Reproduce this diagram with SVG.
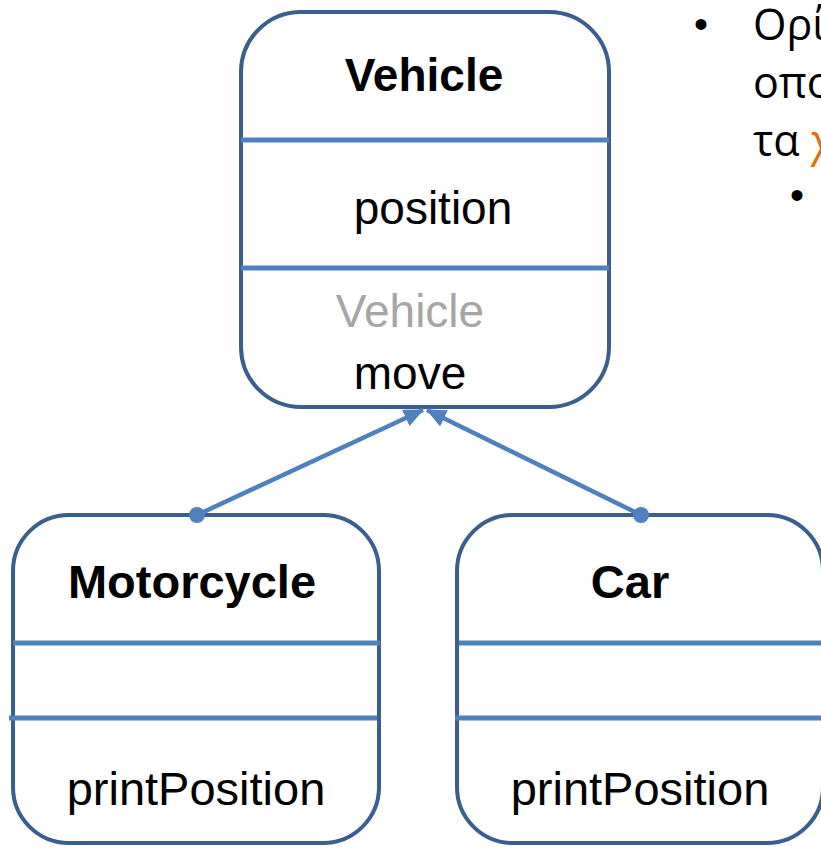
<svg xmlns="http://www.w3.org/2000/svg" width="821" height="847" viewBox="0 0 821 847">
<style>
.box{fill:#fff;stroke:#3A5F8E;stroke-width:4}
.div{stroke:#4F81BD;stroke-width:5}
.t{font-family:"Liberation Sans",Arial,sans-serif;font-size:46px;fill:#000;text-anchor:middle}
.lg{font-size:47px}
.b{font-weight:bold}
.g{fill:#A6A6A6}
.conn{stroke:#4F81BD;stroke-width:4.5;fill:none;marker-start:url(#dot);marker-end:url(#arr)}
.side{font-family:"Open Sans","Noto Sans",sans-serif;font-size:43px;fill:#000}
.bul{font-family:"Liberation Sans",sans-serif;font-size:40px;fill:#000;text-anchor:middle}
</style>
<defs>
<marker id="arr" markerUnits="userSpaceOnUse" viewBox="0 0 20 18" refX="19" refY="9" markerWidth="20" markerHeight="18" orient="auto">
<path d="M0,0 L20,9 L0,18 Z" fill="#4F81BD"/>
</marker>
<marker id="dot" markerUnits="userSpaceOnUse" viewBox="0 0 18 18" refX="9" refY="9" markerWidth="18" markerHeight="18">
<circle cx="9" cy="9" r="8" fill="#4F81BD"/>
</marker>
</defs>
<rect width="821" height="847" fill="#fff"/>
<g id="side-text">
<text class="bul" x="701" y="38">•</text>
<text class="side" x="753" y="40">Ορί</text>
<text class="side" x="753" y="98">οπο</text>
<text class="side" x="753" y="156">τα <tspan fill="#E46C0A">χ</tspan></text>
<text class="bul" x="797" y="209">•</text>
</g>
<g id="vehicle">
<rect class="box" x="241" y="12" width="368" height="395" rx="60" ry="60"/>
<line class="div" x1="241" y1="140" x2="609" y2="140"/>
<line class="div" x1="241" y1="268" x2="609" y2="268"/>
<text class="t b" x="424" y="91">Vehicle</text>
<text class="t" x="433" y="224">position</text>
<text class="t g" x="410" y="327">Vehicle</text>
<text class="t" x="410" y="389">move</text>
</g>
<g id="motorcycle">
<rect class="box" x="13" y="515" width="366" height="328" rx="56" ry="56"/>
<line class="div" x1="13" y1="643" x2="380" y2="643"/>
<line class="div" x1="9" y1="718" x2="377" y2="718"/>
<text class="t b lg" x="192" y="598">Motorcycle</text>
<text class="t lg" x="196" y="805">printPosition</text>
</g>
<g id="car">
<rect class="box" x="457" y="515" width="366" height="328" rx="56" ry="56"/>
<line class="div" x1="459" y1="643" x2="823" y2="643"/>
<line class="div" x1="455" y1="718" x2="823" y2="718"/>
<text class="t b lg" x="630" y="598">Car</text>
<text class="t lg" x="640" y="805">printPosition</text>
</g>
<g id="connectors">
<path class="conn" d="M197,515 L423,410"/>
<path class="conn" d="M641,515 L427,410"/>
</g>
</svg>
